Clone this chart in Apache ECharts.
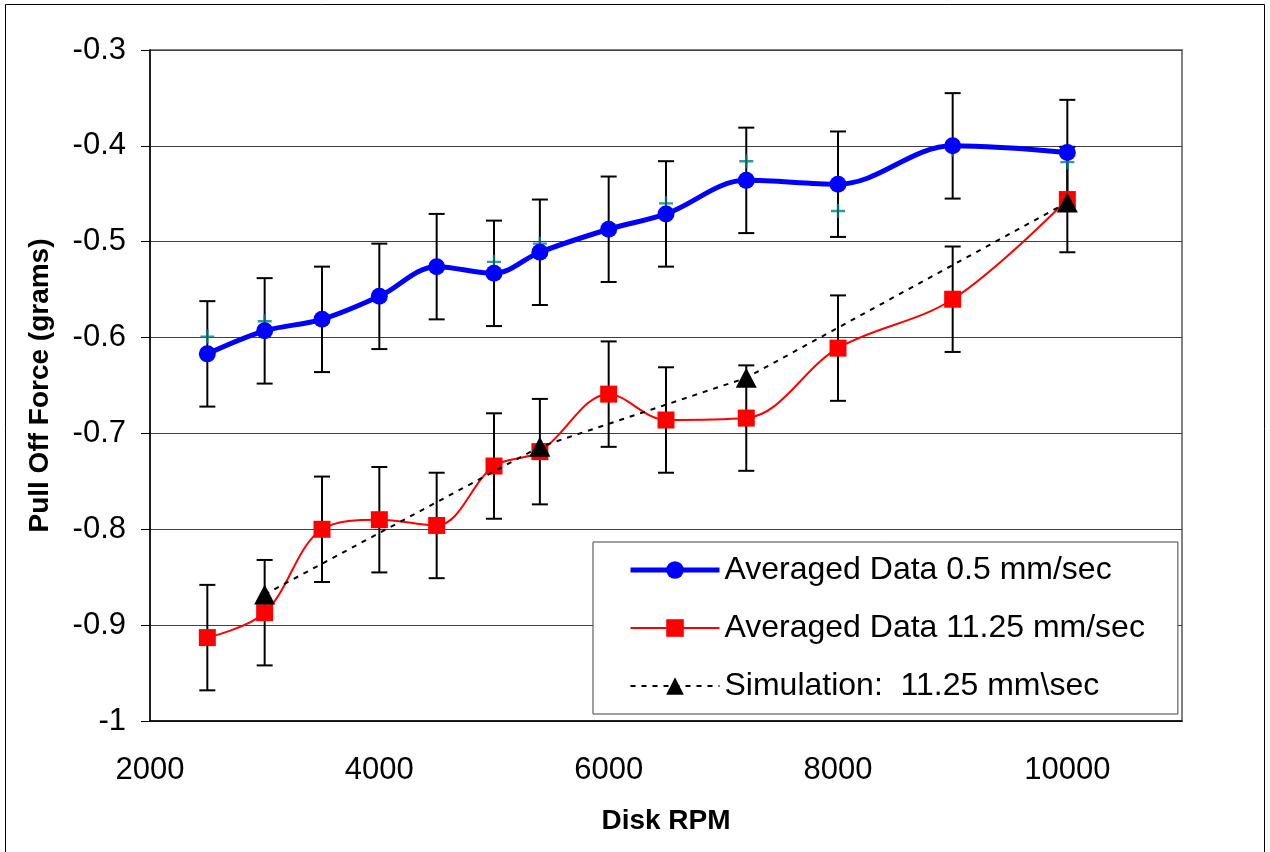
<!DOCTYPE html>
<html><head><meta charset="utf-8">
<script src="https://cdn.jsdelivr.net/npm/echarts@6/dist/echarts.min.js"></script>
<style>html,body{margin:0;padding:0;background:#fff}#c{width:1270px;height:852px}</style>
</head><body><div id="c"></div>
<script>
// ---- data ----
const rpm = [2500, 3000, 3500, 4000, 4500, 5000, 5400, 6000, 6500, 7200, 8000, 9000, 10000];
const slowAvg = [-0.617, -0.593, -0.581, -0.557, -0.526, -0.533, -0.511, -0.487, -0.471, -0.436, -0.440, -0.400, -0.407];
const slowErr = [0.055, 0.055, 0.055, 0.055, 0.055, 0.055, 0.055, 0.055, 0.055, 0.055, 0.055, 0.055, 0.055];
const fastAvg = [-0.913, -0.887, -0.800, -0.790, -0.796, -0.734, -0.719, -0.659, -0.686, -0.684, -0.611, -0.560, -0.456];
const fastErr = [0.055, 0.055, 0.055, 0.055, 0.055, 0.055, 0.055, 0.055, 0.055, 0.055, 0.055, 0.055, 0.055];
const simRpm = [3000, 5400, 7200, 10000];
const simVal = [-0.868, -0.714, -0.642, -0.459];
const extraVal = [-0.599, -0.583, null, null, null, -0.521, -0.502, null, -0.460, -0.416, -0.468, -0.404, -0.417];
const seriesNames = ['Averaged Data 0.5 mm/sec', 'Averaged Data 11.25 mm/sec', 'Simulation:  11.25 mm\\sec'];
const xAxisRange = { min: 2000, max: 11000, interval: 2000 };
const yAxisRange = { min: -1, max: -0.3, interval: 0.1 };
const xTitle = 'Disk RPM';
const yTitle = 'Pull Off Force (grams)';

const FONT = 'Liberation Sans, Arial, sans-serif';

const pairs = (xs, ys) => xs.map((x, i) => [x, ys[i]]);
const errData = (xs, ys, es) => xs.map((x, i) => [x, ys[i] - es[i], ys[i] + es[i]]);

function errRender(params, api) {
  const x = api.value(0);
  const pLo = api.coord([x, api.value(1)]);
  const pHi = api.coord([x, api.value(2)]);
  const hw = 8;
  const st = { stroke: '#000', lineWidth: 2 };
  return {
    type: 'group',
    children: [
      { type: 'line', shape: { x1: pLo[0], y1: pLo[1], x2: pHi[0], y2: pHi[1] }, style: st },
      { type: 'line', shape: { x1: pLo[0] - hw, y1: pLo[1], x2: pLo[0] + hw, y2: pLo[1] }, style: st },
      { type: 'line', shape: { x1: pHi[0] - hw, y1: pHi[1], x2: pHi[0] + hw, y2: pHi[1] }, style: st }
    ]
  };
}

const chart = echarts.init(document.getElementById('c'), null, { renderer: 'canvas' });
chart.setOption({
  backgroundColor: '#fff',
  animation: false,
  textStyle: { fontFamily: FONT },
  graphic: [{
    type: 'rect', shape: { x: 5.5, y: 4.5, width: 1259, height: 860 },
    style: { fill: 'none', stroke: '#000', lineWidth: 1 }, silent: true, z: -10
  }],
  grid: {
    left: 150, top: 50, width: 1032, height: 671,
    show: true, borderColor: '#808080', borderWidth: 2, backgroundColor: '#fff'
  },
  legend: {
    orient: 'vertical',
    left: 593, top: 542,
    data: [
      { name: seriesNames[0], lineStyle: { width: 5, color: '#0000FF' } },
      { name: seriesNames[1], lineStyle: { width: 2, color: '#FF0000' } },
      { name: seriesNames[2], lineStyle: { width: 2, color: '#000', type: [5, 6] } }
    ],
    itemWidth: 89, itemHeight: 22, itemGap: 20,
    padding: [9, 33, 9, 35],
    backgroundColor: '#fff',
    borderColor: '#404040', borderWidth: 1, borderRadius: 0,
    textStyle: { fontFamily: FONT, fontSize: 32, color: '#000', lineHeight: 38 },
    z: 20
  },
  xAxis: {
    type: 'value',
    min: xAxisRange.min, max: xAxisRange.max, interval: xAxisRange.interval,
    name: xTitle, nameLocation: 'middle', nameGap: 86,
    nameTextStyle: { fontFamily: FONT, fontSize: 28, fontWeight: 'bold', color: '#000' },
    axisLine: { show: true, onZero: false, lineStyle: { color: '#000', width: 1.5 } },
    axisTick: { show: false },
    axisLabel: {
      fontFamily: FONT, fontSize: 31, color: '#000', margin: 34, showMaxLabel: false,
      formatter: v => String(Math.round(v))
    },
    splitLine: { show: false }
  },
  yAxis: {
    type: 'value',
    min: yAxisRange.min, max: yAxisRange.max, interval: yAxisRange.interval,
    name: yTitle, nameLocation: 'middle', nameGap: 96, nameRotate: 90,
    nameTextStyle: { fontFamily: FONT, fontSize: 28, fontWeight: 'bold', color: '#000' },
    axisLine: { show: true, onZero: false, lineStyle: { color: '#000', width: 1.5 } },
    axisTick: { show: true, inside: false, length: 9, lineStyle: { color: '#000', width: 1 } },
    axisLabel: {
      fontFamily: FONT, fontSize: 31, color: '#000', margin: 24,
      formatter: v => String(parseFloat(v.toFixed(1)))
    },
    splitLine: { show: true, lineStyle: { color: '#404040', width: 1 } }
  },
  series: [
    {
      type: 'custom', name: 'err0', renderItem: errRender, silent: true, z: 2,
      encode: { x: 0, y: [1, 2] }, data: errData(rpm, slowAvg, slowErr)
    },
    {
      type: 'custom', name: 'err1', renderItem: errRender, silent: true, z: 2,
      encode: { x: 0, y: [1, 2] }, data: errData(rpm, fastAvg, fastErr)
    },
    {
      type: 'scatter', name: 'extra', silent: true, z: 3,
      symbol: 'path://M0,5.8 L14,5.8 L14,8.2 L0,8.2 Z M5.8,0 L8.2,0 L8.2,14 L5.8,14 Z',
      symbolSize: 14,
      itemStyle: { color: '#008080' },
      data: pairs(rpm, extraVal).filter(p => p[1] !== null)
    },
    {
      type: 'line', name: seriesNames[0], z: 4,
      data: pairs(rpm, slowAvg), smooth: 0.35,
      lineStyle: { color: '#0000FF', width: 5 },
      itemStyle: { color: '#0000FF' },
      symbol: 'circle', symbolSize: 17, showAllSymbol: true
    },
    {
      type: 'line', name: seriesNames[1], z: 5,
      data: pairs(rpm, fastAvg), smooth: 0.35,
      lineStyle: { color: '#FF0000', width: 2 },
      itemStyle: { color: '#FF0000' },
      symbol: 'rect', symbolSize: 17, showAllSymbol: true
    },
    {
      type: 'line', name: seriesNames[2], z: 6,
      data: pairs(simRpm, simVal), smooth: false,
      lineStyle: { color: '#000', width: 2, type: [5, 6] },
      itemStyle: { color: '#000' },
      symbol: 'triangle', symbolSize: [21, 20], showAllSymbol: true
    }
  ]
});
</script>
</body></html>
